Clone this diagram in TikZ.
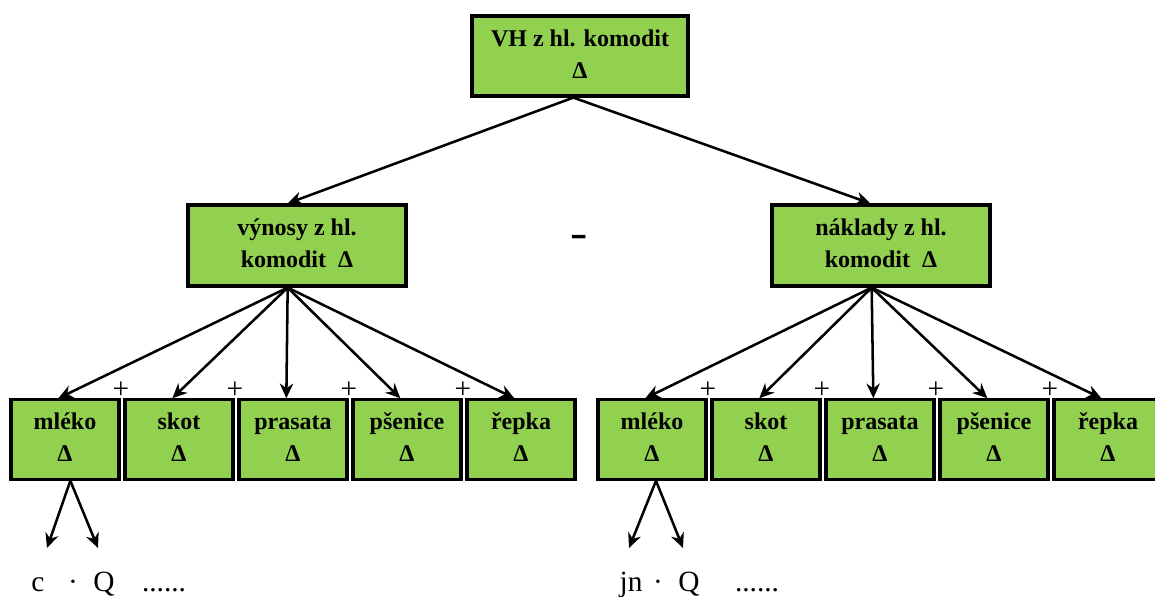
\documentclass[tikz,border=0pt]{standalone}
\usepackage{fontspec}
\setmainfont{Liberation Serif}
\usetikzlibrary{arrows.meta, positioning, calc}
\definecolor{boxgreen}{RGB}{146,208,80}

\tikzset{
    greenbox/.style={draw, fill=boxgreen, line width=2.4pt, align=center,
        font=\bfseries\fontsize{18}{24}\selectfont, inner sep=0pt},
    topbox/.style={greenbox, minimum width=162pt, minimum height=60pt},
    sumbox/.style={greenbox, minimum width=163.5pt, minimum height=60.75pt},
    commbox/.style={greenbox, minimum width=81pt, minimum height=59.5pt},
    formula/.style={anchor=base, inner sep=0pt, font=\fontsize{22}{24}\selectfont},
    plussign/.style={inner sep=0pt, font=\fontsize{22}{24}\selectfont}
}

\begin{document}
\begin{tikzpicture}[x=0.75pt, y=-0.75pt, >={Stealth[length=11pt,width=10pt]}, line width=1.9pt]
\useasboundingbox (0,0) rectangle (1155,596);

% top and the two sums
\node[topbox] (vh) at (580,56) {VH z hl. komodit\strut\\Δ\strut};
\node[sumbox] (vynosy) at (297,245.5) {výnosy z hl.\strut\\komodit\ \ Δ\strut};
\node[sumbox] (naklady) at (881,245.5) {náklady z hl.\strut\\komodit\ \ Δ\strut};
\node[inner sep=0pt, font=\bfseries\fontsize{30}{30}\selectfont, xscale=1.3] (minus) at (579,241) {-};

\draw[->] ([xshift=-5pt]vh.south) -- ([xshift=-7pt]vynosy.north);
\draw[->] ([xshift=-5pt]vh.south) -- ([xshift=-8pt]naklady.north);

% commodities
\foreach \side/\xo/\sum in {L/0/vynosy, R/587/naklady}
{
    \foreach \name/\txt [count=\i from 0] in {mleko/mléko, skot/skot, prasata/prasata, psenice/pšenice, repka/řepka}
    {
        \node[commbox] (\name\side) at (65+\xo+114*\i, 439.5) {\txt\strut\\Δ\strut};
        \draw[->] ([xshift=-7pt]\sum.south) -- ([xshift=-5pt]\name\side.north);
    }
    \foreach \i in {0,...,3}
    {
        \node[plussign] (plus\side\i) at (121+\xo+114*\i, 390) {+};
    }
}

% decomposition of milk
\node[formula] (cL) at (38,591) {c};
\node[formula] (dotL) at (73,591) {·};
\node[formula] (QL) at (104,591) {Q};
\node[formula] (moreL) at (164,591) {......};
\node[formula] (jnR) at (631,591) {jn};
\node[formula] (dotR) at (658,591) {·};
\node[formula] (QR) at (689,591) {Q};
\node[formula] (moreR) at (757,591) {......};

\draw[->] ([xshift=4pt]mlekoL.south) -- ($(cL.base)+(9,-43)$);
\draw[->] ([xshift=4pt]mlekoL.south) -- ($(QL.base)+(-6,-43)$);
\draw[->] ([xshift=3pt]mlekoR.south) -- ($(jnR.base)+(-2,-43)$);
\draw[->] ([xshift=3pt]mlekoR.south) -- ($(QR.base)+(-6,-43)$);
\end{tikzpicture}
\end{document}
